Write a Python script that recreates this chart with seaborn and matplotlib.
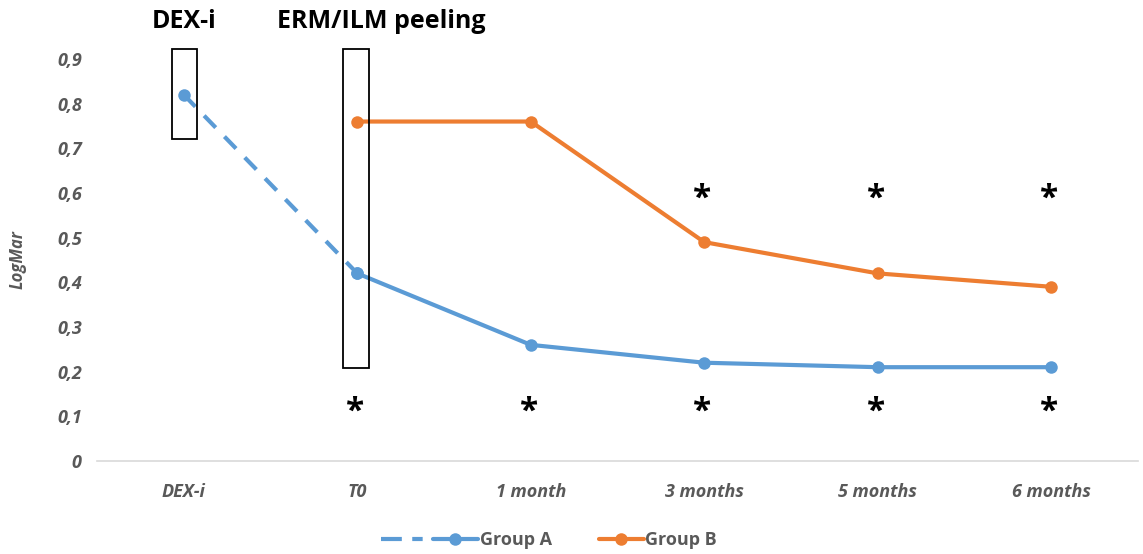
import matplotlib
matplotlib.use("Agg")
import matplotlib.pyplot as plt
import seaborn as sns
import pandas as pd
from matplotlib.lines import Line2D
from matplotlib.patches import Rectangle
from matplotlib.legend_handler import HandlerLine2D

categories = ["DEX-i", "T0", "1 month", "3 months", "5 months", "6 months"]
group_a = [0.82, 0.42, 0.26, 0.22, 0.21, 0.21]
group_b = [None, 0.76, 0.76, 0.49, 0.42, 0.39]
yticks = [0, 0.1, 0.2, 0.3, 0.4, 0.5, 0.6, 0.7, 0.8, 0.9]
ytick_labels = ["0", "0,1", "0,2", "0,3", "0,4", "0,5", "0,6", "0,7", "0,8", "0,9"]
star_low = ["T0", "1 month", "3 months", "5 months", "6 months"]
star_high = ["3 months", "5 months", "6 months"]

sns.set_theme(style="white")
plt.rcParams['font.family'] = ['Open Sans', 'DejaVu Sans']

blue = "#5B9BD5"
orange = "#ED7D31"
gray = "#595959"

fig = plt.figure(figsize=(11.43, 5.54), dpi=100)
ax = fig.add_axes([0.0849, 0.1679, 0.9107, 0.7256])

pos = {c: i for i, c in enumerate(categories)}
dfa = pd.DataFrame({"x": [pos[c] for c in categories], "y": group_a})
dfb = pd.DataFrame({"x": [pos[c] for c in categories], "y": group_b}).dropna()

lw = 3.0
ms = 9
# dashed segment DEX-i -> T0
sns.lineplot(data=dfa.iloc[:2], x="x", y="y", ax=ax, color=blue, lw=lw,
             marker="o", markersize=ms, markeredgewidth=0, dashes=False,
             linestyle=(0, (4, 3)))
sns.lineplot(data=dfa.iloc[1:], x="x", y="y", ax=ax, color=blue, lw=lw,
             marker="o", markersize=ms, markeredgewidth=0)
sns.lineplot(data=dfb, x="x", y="y", ax=ax, color=orange, lw=lw,
             marker="o", markersize=ms, markeredgewidth=0)

ax.set_xlim(-0.5, len(categories) - 0.5)
ax.set_ylim(0, 0.9)
ax.set_xticks(range(len(categories)))
ax.set_xticklabels(categories, fontsize=13, style="italic", fontweight="bold", color=gray)
ax.set_yticks(yticks)
ax.set_yticklabels(ytick_labels, fontsize=13, style="italic", fontweight="bold", color=gray)
ax.tick_params(axis="x", length=0, pad=16)
ax.tick_params(axis="y", length=0, pad=11)
ax.set_xlabel("")
ax.set_ylabel("LogMar", fontsize=12, style="italic", fontweight="bold", color=gray, labelpad=22)
for s in ["top", "right", "left"]:
    ax.spines[s].set_visible(False)
ax.spines["bottom"].set_color("#D9D9D9")
ax.spines["bottom"].set_linewidth(1.2)

# boxes
ax.add_patch(Rectangle((pos["DEX-i"] - 0.07, 0.72), 0.145, 0.202, fill=False,
                       edgecolor="black", lw=1.3, clip_on=False, zorder=5))
ax.add_patch(Rectangle((pos["T0"] - 0.085, 0.208), 0.15, 0.714, fill=False,
                       edgecolor="black", lw=1.3, clip_on=False, zorder=5))
ax.text(pos["DEX-i"], 0.985, "DEX-i", ha="center", va="center", fontsize=18,
        fontweight="bold", color="black", clip_on=False)
ax.text(pos["T0"] + 0.14, 0.985, "ERM/ILM peeling", ha="center", va="center", fontsize=18,
        fontweight="bold", color="black", clip_on=False)

for c in star_low:
    ax.text(pos[c] - 0.01, 0.11, "*", ha="center", va="center", fontsize=24,
            fontweight="bold", color="black")
for c in star_high:
    ax.text(pos[c] - 0.01, 0.585, "*", ha="center", va="center", fontsize=24,
            fontweight="bold", color="black")


class DashPrefixHandler(HandlerLine2D):
    def create_artists(self, legend, orig_handle, xdescent, ydescent, width, height,
                       fontsize, trans):
        artists = super().create_artists(legend, orig_handle, xdescent, ydescent,
                                         width, height, fontsize, trans)
        y = (height - ydescent) / 2
        pre = Line2D([-xdescent - width * 1.15, -xdescent - width * 0.05], [y, y],
                     color=blue, lw=lw, linestyle=(0, (5, 2.5, 2.5, 2.5)),
                     solid_capstyle="butt", dash_capstyle="butt")
        pre.set_transform(trans)
        return [pre] + list(artists)


ha = Line2D([], [], color=blue, lw=lw, marker="o", markersize=ms, markeredgewidth=0)
hb = Line2D([], [], color=orange, lw=lw, marker="o", markersize=ms, markeredgewidth=0)
leg = fig.legend([ha, hb], ["Group A", "Group B"], loc="center", bbox_to_anchor=(0.503, 0.025),
                 ncol=2, frameon=False, handlelength=2.5, handletextpad=0.1, columnspacing=2.6,
                 prop={"size": 13, "weight": "bold"},
                 handler_map={ha: DashPrefixHandler()})
for t in leg.get_texts():
    t.set_color(gray)

fig.savefig("out.png", dpi=100)
